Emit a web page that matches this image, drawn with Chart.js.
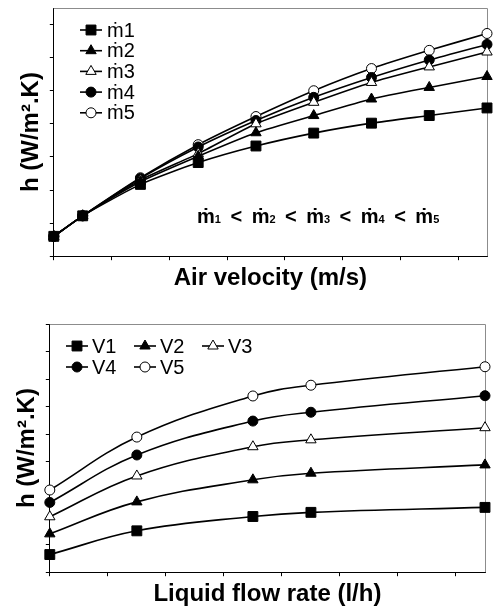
<!DOCTYPE html>
<html lang="en">
<head>
  <meta charset="UTF-8">
  <title>Heat transfer coefficient</title>
  <script src="https://cdn.jsdelivr.net/npm/chart.js"></script>
  <style>
    body { margin: 0; background: #fff; overflow: hidden; }
    canvas { display: block; }
  </style>
</head>
<body>
  <canvas id="velocityChart" width="495" height="300"></canvas>
  <canvas id="flowChart" width="495" height="309"></canvas>

  <script>
    // values, in axis tick units (original axes carry no numbers)
    const airVelocity = [0, 0.5, 1.5, 2.5, 3.5, 4.5, 5.5, 6.5, 7.5];
    const hM1 = [0.6, 1.22, 2.17, 2.83, 3.33, 3.72, 4.02, 4.25, 4.48];
    const hM2 = [0.6, 1.22, 2.25, 3.02, 3.73, 4.25, 4.75, 5.1, 5.43];
    const hM3 = [0.6, 1.22, 2.3, 3.1, 4.0, 4.65, 5.25, 5.72, 6.17];
    const hM4 = [0.6, 1.22, 2.35, 3.3, 4.1, 4.8, 5.4, 5.93, 6.4];
    const hM5 = [0.6, 1.22, 2.37, 3.37, 4.22, 5.0, 5.67, 6.22, 6.73];
    const massLabels = ['ṁ1', 'ṁ2', 'ṁ3', 'ṁ4', 'ṁ5'];
    const massIndex = ['1', '2', '3', '4', '5'];

    const flowRate = [0, 1.5, 3.5, 4.5, 7.5];
    const hV1 = [0.64, 1.5, 2.02, 2.17, 2.35];
    const hV2 = [1.39, 2.55, 3.35, 3.59, 3.89];
    const hV3 = [2.01, 3.49, 4.55, 4.8, 5.24];
    const hV4 = [2.53, 4.25, 5.48, 5.8, 6.4];
    const hV5 = [2.98, 4.9, 6.39, 6.78, 7.45];
    const velLabels = ['V1', 'V2', 'V3', 'V4', 'V5'];

    // marker look for series 1..5
    const markers = [
      { style: 'rect', fill: '#000', r: 7 },
      { style: 'triangle', fill: '#000', r: 6 },
      { style: 'triangle', fill: '#fff', r: 6 },
      { style: 'circle', fill: '#000', r: 5 },
      { style: 'circle', fill: '#fff', r: 5 }
    ];

    Chart.defaults.font.family = "'Liberation Sans', Arial, 'DejaVu Sans', sans-serif";
    Chart.defaults.color = '#000';

    function makeSets(labels, series, x, tension) {
      return series.map((ys, i) => ({
        label: labels[i],
        data: ys.map((y, j) => ({ x: x[j], y: y })),
        borderColor: '#000',
        borderWidth: 1.6,
        tension: tension,
        pointStyle: markers[i].style,
        pointRadius: markers[i].r,
        pointBackgroundColor: markers[i].fill,
        pointBorderColor: '#000',
        pointBorderWidth: 1,
        clip: false
      }));
    }

    function axes(yMax, xTitle) {
      const grid = { drawOnChartArea: false, drawTicks: true, tickLength: 4, color: '#000' };
      const border = { color: '#000', width: 1 };
      const titleFont = { size: 24, weight: 'bold' };
      return {
        x: {
          type: 'linear', min: 0, max: 7.5,
          ticks: { stepSize: 1, display: false, includeBounds: false },
          grid: grid, border: border,
          title: { display: true, text: xTitle, font: titleFont, padding: { top: 4, bottom: 0 } }
        },
        y: {
          type: 'linear', min: 0, max: yMax,
          ticks: { stepSize: 1, display: false, includeBounds: false },
          grid: grid, border: border,
          title: { display: true, text: 'h (W/m².K)', font: titleFont }
        }
      };
    }

    // gray top and right edges of the plot box
    const frame = {
      id: 'frame',
      beforeDatasetsDraw(chart) {
        const { ctx, chartArea: a } = chart;
        ctx.save();
        ctx.strokeStyle = '#8c8c8c';
        ctx.lineWidth = 1;
        ctx.beginPath();
        ctx.moveTo(a.left, a.top + 0.5);
        ctx.lineTo(a.right + 0.5, a.top + 0.5);
        ctx.lineTo(a.right + 0.5, a.bottom);
        ctx.stroke();
        ctx.restore();
      }
    };

    // legend drawn inside the plot, in a grid of cols
    const keyBox = {
      id: 'keyBox',
      afterDraw(chart, args, opts) {
        const ctx = chart.ctx;
        ctx.save();
        ctx.font = opts.fontSpec;
        ctx.textBaseline = 'middle';
        chart.data.datasets.forEach((ds, i) => {
          const x = opts.x + (i % opts.cols) * opts.colW;
          const y = opts.y + Math.floor(i / opts.cols) * opts.rowH;
          ctx.strokeStyle = '#000';
          ctx.lineWidth = 1.6;
          ctx.beginPath();
          ctx.moveTo(x, y);
          ctx.lineTo(x + opts.lineW, y);
          ctx.stroke();
          ctx.fillStyle = ds.pointBackgroundColor;
          ctx.lineWidth = 1;
          Chart.helpers.drawPoint(ctx, { pointStyle: ds.pointStyle, radius: ds.pointRadius, borderWidth: 1, rotation: 0 }, x + opts.lineW / 2, y);
          ctx.fillStyle = '#000';
          ctx.fillText(ds.label, x + opts.lineW + opts.gap, y + 1);
        });
        ctx.restore();
      }
    };

    // "ṁ1 < ṁ2 < ... " note with small index digits
    const orderNote = {
      id: 'orderNote',
      afterDraw(chart, args, opts) {
        const { ctx, scales } = chart;
        const big = 'bold 20px ' + Chart.defaults.font.family;
        const small = 'bold 11px ' + Chart.defaults.font.family;
        let x = scales.x.getPixelForValue(opts.atX);
        const y = scales.y.getPixelForValue(opts.atY);
        ctx.save();
        ctx.fillStyle = '#000';
        ctx.textBaseline = 'alphabetic';
        massIndex.forEach((d, i) => {
          ctx.font = big;
          ctx.fillText('ṁ', x, y);
          x += ctx.measureText('ṁ').width;
          ctx.font = small;
          ctx.fillText(d, x, y);
          x += ctx.measureText(d).width;
          if (i < massIndex.length - 1) {
            ctx.font = big;
            x += opts.gap;
            ctx.fillText('<', x, y);
            x += ctx.measureText('<').width + opts.gap;
          }
        });
        ctx.restore();
      }
    };

    new Chart(document.getElementById('velocityChart'), {
      type: 'line',
      data: { datasets: makeSets(massLabels, [hM1, hM2, hM3, hM4, hM5], airVelocity, 0.2) },
      options: {
        responsive: false,
        animation: false,
        layout: { padding: { left: 13, right: 7, top: 5, bottom: 7 } },
        scales: axes(7.5, 'Air velocity (m/s)'),
        plugins: {
          legend: { display: false },
          tooltip: { enabled: false },
          keyBox: { x: 80, y: 30, cols: 1, colW: 0, rowH: 20.7, lineW: 22, gap: 5, fontSpec: "20px 'Liberation Sans', Arial, 'DejaVu Sans', sans-serif" },
          orderNote: { atX: 2.48, atY: 1.0, gap: 9.5 }
        }
      },
      plugins: [frame, keyBox, orderNote]
    });

    new Chart(document.getElementById('flowChart'), {
      type: 'line',
      data: { datasets: makeSets(velLabels, [hV1, hV2, hV3, hV4, hV5], flowRate, 0.4) },
      options: {
        responsive: false,
        animation: false,
        layout: { padding: { left: 9, right: 10, top: 24, bottom: 0 } },
        scales: axes(9, 'Liquid flow rate (l/h)'),
        plugins: {
          legend: { display: false },
          tooltip: { enabled: false },
          keyBox: { x: 66, y: 46, cols: 3, colW: 68, rowH: 21, lineW: 22, gap: 4, fontSpec: "20px 'Liberation Sans', Arial, sans-serif" }
        }
      },
      plugins: [frame, keyBox]
    });
  </script>
</body>
</html>
